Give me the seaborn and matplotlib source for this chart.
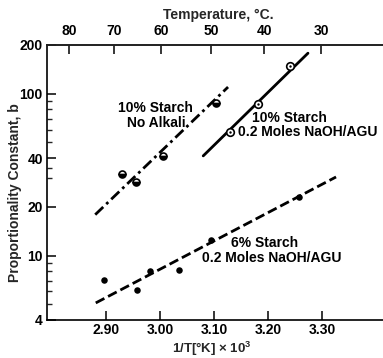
import numpy as np
import pandas as pd
import matplotlib
matplotlib.use("Agg")
import matplotlib.pyplot as plt
import seaborn as sns
from matplotlib.ticker import FixedLocator, NullFormatter, FixedFormatter

sns.set_theme(style="ticks")
plt.rcParams['font.family'] = ['Liberation Sans', 'DejaVu Sans']
plt.rcParams['font.weight'] = 'bold'
plt.rcParams['mathtext.default'] = 'regular'

# ---- data ----
na_x = [2.930, 2.956, 3.006, 3.104]          # 10% starch, no alkali
na_y = [32.0, 28.5, 41.0, 88.0]
na_fit_x = [2.880, 3.126]
na_fit_y = [17.9, 110.0]

s10_x = [3.130, 3.181, 3.241]                # 10% starch, 0.2 mol NaOH/AGU
s10_y = [58.0, 86.5, 148.0]
s10_fit_x = [3.080, 3.274]
s10_fit_y = [41.3, 178.0]

s6_x = [2.896, 2.957, 2.981, 3.035, 3.094, 3.257]   # 6% starch, 0.2 mol NaOH/AGU
s6_y = [7.1, 6.1, 8.0, 8.2, 12.5, 23.1]
s6_fit_x = [2.881, 3.326]
s6_fit_y = [5.1, 30.6]

x_ticks = [2.90, 3.00, 3.10, 3.20, 3.30]
x_ticklabels = ["2.90", "3.00", "3.10", "3.20", "3.30"]
y_major = [4, 10, 20, 40, 100, 200]
y_minor = [5, 6, 7, 8, 9, 30, 35, 50, 60, 70, 80, 90]
temp_ticks = [80, 70, 60, 50, 40, 30]

W, H = 383, 358
fig = plt.figure(figsize=(W / 100, H / 100), dpi=100)
fig.patch.set_facecolor("white")
ax = fig.add_axes([47 / W, 1 - 320 / H, 1 - 47 / W, (320 - 45) / H])
ax.set_facecolor("white")

lw = 2.0
sns.lineplot(x=na_fit_x, y=na_fit_y, ax=ax, color="black", lw=lw,
             linestyle=(0, (4, 1.5, 1, 1.5)))
sns.lineplot(x=s10_fit_x, y=s10_fit_y, ax=ax, color="black", lw=lw)
sns.lineplot(x=s6_fit_x, y=s6_fit_y, ax=ax, color="black", lw=lw,
             linestyle=(0, (3.5, 1.5)))

# markers
ax.plot(na_x, na_y, ls="none", marker="o", ms=5, fillstyle="bottom",
        markerfacecolor="black", markerfacecoloralt="white",
        markeredgecolor="black", mew=1.2, zorder=5)
sns.scatterplot(x=s10_x, y=s10_y, ax=ax, marker="o", s=30, facecolor="white",
                edgecolor="black", linewidth=1.2, zorder=5)
sns.scatterplot(x=s10_x, y=s10_y, ax=ax, marker="o", s=3, color="black",
                edgecolor="black", linewidth=0, zorder=6)
sns.scatterplot(x=s6_x, y=s6_y, ax=ax, marker="o", s=22, color="black",
                edgecolor="black", linewidth=0, zorder=5)

ax.set_yscale("log")
ax.set_ylim(4, 200)
ax.set_xlim(2.7907, 2.90 + (W - 106) / 540)
ax.yaxis.set_major_locator(FixedLocator(y_major))
ax.yaxis.set_major_formatter(FixedFormatter([str(v) for v in y_major]))
ax.yaxis.set_minor_locator(FixedLocator(y_minor))
ax.yaxis.set_minor_formatter(NullFormatter())
ax.set_xticks(x_ticks)
ax.set_xticklabels(x_ticklabels)

ax.tick_params(axis="both", which="major", direction="in", length=6.5, width=1.1,
               labelsize=10, colors="black")
ax.tick_params(axis="y", which="minor", direction="in", length=3.6, width=1.0)
ax.tick_params(axis="x", pad=2)
ax.tick_params(axis="y", pad=3)
for lab in ax.get_xticklabels() + ax.get_yticklabels():
    lab.set_fontweight("bold")
ax.spines["right"].set_visible(False)
for s in ["left", "bottom", "top"]:
    ax.spines[s].set_linewidth(1.2)
    ax.spines[s].set_color("black")
ax.set_xlabel("")
ax.set_ylabel("")

ax2 = ax.twiny()
ax2.set_xlim(ax.get_xlim())
ax2.set_xticks([1000 / (t + 273.15) for t in temp_ticks])
ax2.set_xticklabels([str(t) for t in temp_ticks], fontweight="bold")
ax2.tick_params(axis="x", direction="in", length=6.5, width=1.1, labelsize=10,
                pad=5, colors="black")
for s in ["right", "left", "bottom"]:
    ax2.spines[s].set_visible(False)
ax2.spines["top"].set_linewidth(1.2)

tk = dict(fontsize=10, fontweight="bold", color="black", va="center", ha="left")
ax.text(2.922, 81.7, "10% Starch", **tk)
ax.text(2.939, 66.0, "No Alkali", **tk)
ax.text(3.170, 70.9, "10% Starch", **tk)
ax.text(3.144, 58.1, "0.2 Moles NaOH/AGU", **tk)
ax.text(3.131, 12.0, "6% Starch", **tk)
ax.text(3.078, 9.69, "0.2 Moles NaOH/AGU", **tk)

fig.text(218 / W, 1 - 15 / H, "Temperature, °C.", ha="center", va="center",
         fontsize=10, fontweight="bold")
fig.text(15 / W, 1 - 193 / H, "Proportionality Constant, b", ha="center",
         va="center", rotation=90, fontsize=10, fontweight="bold")
fig.text(212 / W, 1 - 348.5 / H, "1/T[°K] × 10$^3$", ha="center", va="center",
         fontsize=9.5, fontweight="bold")

fig.savefig("out.png", dpi=100, facecolor="white")
